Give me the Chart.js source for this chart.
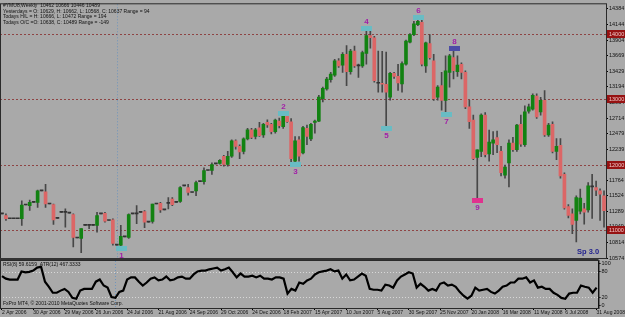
<!DOCTYPE html>
<html>
<head>
<meta charset="utf-8">
<script src="https://cdn.jsdelivr.net/npm/chart.js@4.4.1/dist/chart.umd.min.js"></script>
<style>
  html, body { margin: 0; padding: 0; background: #a9a9a9; }
  #wrap { position: relative; width: 625px; height: 317px; overflow: hidden; }
  #wrap canvas { position: absolute; left: 0; top: 0; }
</style>
</head>
<body>
<div id="wrap">
  <canvas id="priceChart" width="625" height="317"></canvas>
  <canvas id="rsiChart" width="625" height="317"></canvas>
</div>
<script>
// weekly bars, oldest first
const opens = [11249,11224,11174,11174,11174,11174,11385,11375,11425,11425,11601,11586,11400,11390,11180,11273,11273,11260,11239,10880,
  10872,11072,11072,11072,11072,11249,11259,11148,11158,10770,10770,10896,10887,11249,11249,11273,11284,11123,11133,11400,
  11410,11309,11410,11475,11425,11440,11677,11651,11576,11601,11742,11742,11913,11913,12013,12020,12130,12004,12130,12367,
  12281,12205,12397,12533,12432,12567,12457,12648,12618,12507,12668,12583,12784,12658,12054,12382,12180,12557,12397,12648,
  12669,13010,13161,13302,13372,13590,13523,13689,13423,13741,13514,13514,13704,13976,13941,13247,13247,13232,13036,13398,
  13353,13237,13538,13876,13991,14142,14178,13514,13855,13590,13036,13212,12986,13413,13640,13423,13538,13413,12885,12684,
  12114,12205,12759,12165,12331,12417,12205,11843,12029,12331,12230,12618,12306,12819,12850,13051,12809,12986,12457,12618,
  12205,12296,11853,11360,11249,11148,11289,11325,11309,11661,11651,11601,11526];
const highs = [11249,11249,11174,11174,11174,11450,11385,11460,11425,11612,11601,11702,11400,11400,11180,11273,11325,11260,11249,10880,
  11023,11072,11088,11072,11273,11249,11273,11148,11174,10770,11072,10896,11249,11249,11375,11273,11299,11123,11400,11400,
  11425,11309,11500,11500,11425,11666,11677,11702,11576,11752,11742,11953,11913,12028,12013,12080,12145,12205,12382,12382,
  12306,12412,12557,12557,12557,12648,12633,12688,12633,12699,12714,12799,12809,12708,12432,12432,12588,12608,12633,12684,
  13061,13187,13337,13413,13614,13624,13715,13825,13765,13816,13539,13740,14092,14092,13966,13741,13735,13725,13413,13413,
  13538,13574,13906,14006,14193,14223,14269,13876,13991,13690,13212,13413,13665,13690,13790,13665,13560,13439,12986,12759,
  12230,12779,12799,12532,12507,12517,12281,11994,12382,12420,12618,12759,12900,12930,13086,13086,13030,13137,12633,12658,
  12400,12400,11878,11390,11325,11526,11627,11410,11727,11853,11752,11631,11601];
const lows = [11249,11148,11174,11174,11174,11073,11385,11300,11425,11349,11601,11349,11400,11088,11180,11273,11047,11260,10745,10880,
  10654,11072,11023,11072,10971,11249,11123,11148,10770,10770,10721,10896,10872,11249,11098,11273,11038,11123,11108,11400,
  11273,11309,11325,11375,11425,11425,11677,11536,11576,11526,11742,11702,11913,11853,12013,12010,11979,11979,12114,12240,
  12095,12165,12382,12401,12397,12432,12417,12573,12472,12482,12563,12557,12648,12028,12013,12054,12165,12306,12367,12482,
  12658,12960,13141,13262,13353,13488,13413,13212,13388,13488,13337,13488,13538,13782,13262,13111,13111,12560,12990,13322,
  13137,13111,13523,13866,13976,14127,13514,13413,13614,12986,12990,12835,12780,13187,13312,13353,13312,12860,12557,12080,
  11465,12124,12120,12054,12155,12185,11828,11797,11662,12205,12205,12280,12280,12790,12835,12709,12760,12432,12432,12180,
  12080,11797,11320,11189,10947,10820,11249,11093,11274,11178,11526,11148,11047];
const closes = [11249,11174,11174,11174,11174,11385,11385,11425,11425,11601,11601,11400,11400,11158,11180,11273,11273,11260,10887,10880,
  11023,11072,11072,11072,11224,11249,11138,11148,10796,10770,10906,10896,11239,11249,11249,11273,11123,11123,11400,11400,
  11309,11309,11410,11390,11425,11651,11677,11576,11576,11727,11742,11913,11913,12004,12013,12069,12004,12130,12367,12281,
  12195,12397,12533,12417,12533,12447,12618,12608,12507,12684,12598,12784,12658,12095,12367,12130,12568,12432,12618,12669,
  13036,13171,13312,13387,13590,13514,13689,13423,13741,13514,13514,13715,13976,13946,13288,13247,13232,13111,13398,13353,
  13252,13549,13891,13991,14157,14193,13538,13866,13640,13010,13187,12986,13439,13665,13439,13524,13413,12885,12658,12095,
  12230,12759,12155,12346,12382,12306,11878,11964,12331,12230,12608,12316,12809,12885,13061,12734,12986,12457,12608,12205,
  12281,11828,11340,11224,11088,11500,11491,11274,11677,11661,11611,11551,11299];

const rsiValues = [70,64,62,62,62,81,79,80,83,90,92,57,45,31,31,36,40,33,19,17,
  36,40,40,40,57,62,48,43,21,19,33,36,62,67,67,57,48,55,64,67,
  60,62,69,60,62,67,69,64,64,74,81,83,83,86,88,90,83,86,90,79,
  67,76,69,69,71,67,71,64,64,62,67,67,64,29,40,36,55,52,60,64,
  74,79,81,83,86,81,83,64,74,60,62,69,76,71,40,38,38,36,50,48,
  43,60,69,74,79,76,43,52,45,36,40,36,52,55,48,50,45,33,24,17,
  24,43,36,38,40,33,29,36,45,48,55,55,64,64,67,55,60,43,45,40,
  40,31,26,19,17,29,31,31,48,45,43,31,43];

// one date label every 8 bars
const dateTicks = ['2 Apr 2006','30 Apr 2006','29 May 2006','26 Jun 2006','24 Jul 2006','21 Aug 2006','24 Sep 2006',
  '29 Oct 2006','24 Dec 2006','18 Feb 2007','15 Apr 2007','10 Jun 2007','5 Aug 2007','30 Sep 2007','25 Nov 2007',
  '20 Jan 2008','16 Mar 2008','11 May 2008','6 Jul 2008','31 Aug 2008'];
const labelEvery = 8;

const priceTicks = [14384,14144,13904,13669,13429,13194,12954,12714,12479,12239,12004,11764,11524,11289,11049,10814,10574];
const levelLines = [14000,13000,12000,11000];
const rsiTicks = [0,20,80,100];
const rsiLevels = [20,80];

// wave count marks
const waveLabels = ['1','2','3','4','5','6','7','8','9'];
const waveBars = [30,71,74,92,97,105,112,114,120];
const wavePrices = [10721,12799,12013,14092,12560,14260,12780,13790,11465];
const waveKinds = ['low','high','low','high','low','high','low','high','low'];

const separatorBar = 29;

const infoLines = [
  '#YMU8,Weekly  10462 10666 10446 10489',
  'Yesterdays = O: 10629, H: 10662, L: 10568, C: 10637 Range = 94',
  'Todays H/L = H: 10666, L: 10472 Range = 194',
  'Todays O/C =O: 10638, C: 10489 Range = -149'
];
const rsiCaption = 'RSI(8) 59.6159  ATR(12) 467.3333';
const copyright = 'FxPro MT4, \u00a9 2001-2010 MetaQuotes Software Corp.';
const spText = 'Sp 3.0';

const barIdx = opens.map((_, i) => i);
const FONT = '"Liberation Sans", Arial, sans-serif';
const boxColor = { '8': '#4c4ca6', '9': '#e0328e' };

function vline(ctx, chart, x) {
  ctx.save();
  ctx.strokeStyle = '#6f95bd';
  ctx.lineWidth = 1;
  ctx.setLineDash([1, 2]);
  ctx.beginPath();
  ctx.moveTo(Math.round(x) + 0.5, chart.chartArea.top);
  ctx.lineTo(Math.round(x) + 0.5, chart.chartArea.bottom);
  ctx.stroke();
  ctx.restore();
}

const priceDecor = {
  id: 'priceDecor',
  beforeDatasetsDraw(chart) {
    const { ctx, chartArea: a, scales: { x, y } } = chart;
    ctx.save();
    ctx.strokeStyle = '#8e4444';
    ctx.lineWidth = 1;
    ctx.setLineDash([2, 2]);
    levelLines.forEach(v => {
      const py = Math.round(y.getPixelForValue(v)) + 0.5;
      ctx.beginPath();
      ctx.moveTo(a.left, py);
      ctx.lineTo(a.right, py);
      ctx.stroke();
    });
    ctx.restore();
    vline(ctx, chart, x.getPixelForValue(separatorBar));
  },
  afterDraw(chart) {
    const { ctx, chartArea: a, scales: { x, y } } = chart;
    ctx.save();
    // frame
    ctx.strokeStyle = '#2a2a2a';
    ctx.lineWidth = 1;
    ctx.strokeRect(a.left + 0.5, a.top - 0.5, a.right - a.left, a.bottom - a.top + 1);

    // level price boxes on the axis
    ctx.font = '5.5px ' + FONT;
    ctx.textBaseline = 'middle';
    ctx.textAlign = 'left';
    levelLines.forEach(v => {
      const py = Math.round(y.getPixelForValue(v));
      ctx.fillStyle = '#961212';
      ctx.fillRect(a.right + 1, py - 4, 19, 8);
      ctx.fillStyle = '#f0c8c8';
      ctx.fillText(String(v), a.right + 3, py);
    });

    // wave marks
    waveLabels.forEach((lab, k) => {
      const px = Math.round(x.getPixelForValue(waveBars[k]));
      const py = Math.round(y.getPixelForValue(wavePrices[k]));
      const high = waveKinds[k] === 'high';
      ctx.fillStyle = boxColor[lab] || '#69bcc4';
      ctx.fillRect(px - 5, py - 2, 11, 5);
      ctx.fillStyle = '#a21ea8';
      ctx.font = 'bold 8px ' + FONT;
      ctx.textAlign = 'center';
      ctx.textBaseline = high ? 'bottom' : 'top';
      ctx.fillText(lab, px + 0.5, high ? py - 2 : py + 4);
    });

    // info text
    ctx.fillStyle = '#111';
    ctx.font = '5px ' + FONT;
    ctx.textAlign = 'left';
    ctx.textBaseline = 'middle';
    infoLines.forEach((t, i) => ctx.fillText(t, 3, 6 + i * 5.4));

    ctx.fillStyle = '#23238f';
    ctx.font = 'bold 7.5px ' + FONT;
    ctx.fillText(spText, 577, 252);
    ctx.restore();
  }
};

const rsiDecor = {
  id: 'rsiDecor',
  beforeDatasetsDraw(chart) {
    const { ctx, chartArea: a, scales: { x, y } } = chart;
    ctx.save();
    ctx.strokeStyle = '#d8d8d8';
    ctx.lineWidth = 1;
    ctx.setLineDash([1, 2]);
    rsiLevels.forEach(v => {
      const py = Math.round(y.getPixelForValue(v)) + 0.5;
      ctx.beginPath();
      ctx.moveTo(a.left, py);
      ctx.lineTo(a.right, py);
      ctx.stroke();
    });
    ctx.restore();
    vline(ctx, chart, x.getPixelForValue(separatorBar));
  },
  afterDraw(chart) {
    const { ctx, chartArea: a } = chart;
    ctx.save();
    ctx.strokeStyle = '#2a2a2a';
    ctx.lineWidth = 1;
    ctx.strokeRect(a.left + 0.5, a.top - 0.5, a.right - a.left, a.bottom - a.top + 1);
    ctx.fillStyle = '#333';
    ctx.fillRect(a.left, a.top - 3, a.right - a.left, 2);
    ctx.fillStyle = '#111';
    ctx.font = '5px ' + FONT;
    ctx.textAlign = 'left';
    ctx.textBaseline = 'middle';
    ctx.fillText(rsiCaption, 3, a.top + 4);
    ctx.fillText(copyright, 3, a.bottom - 4);
    ctx.restore();
  }
};

const rightAxis = (min, max, tickList) => ({
  position: 'right',
  min: min,
  max: max,
  afterBuildTicks: s => { s.ticks = tickList.map(v => ({ value: v })); },
  afterFit: s => { s.width = 19; },
  grid: { drawOnChartArea: false, tickLength: 2, color: '#000' },
  border: { color: '#000' },
  ticks: { color: '#111', padding: 1, font: { size: 5.5, family: FONT }, callback: v => String(v) }
});

new Chart(document.getElementById('priceChart'), {
  type: 'bar',
  data: {
    labels: barIdx,
    datasets: [
      {
        label: 'body',
        data: opens.map((o, i) => [o, closes[i]]),
        backgroundColor: c => {
          const i = c.dataIndex;
          if (closes[i] > opens[i]) return '#128212';
          if (closes[i] < opens[i]) return '#dc6666';
          return '#333';
        },
        borderWidth: 0,
        barThickness: 3,
        minBarLength: 1,
        grouped: false,
        order: 1
      },
      {
        label: 'wick',
        data: lows.map((l, i) => [l, highs[i]]),
        backgroundColor: '#474747',
        barThickness: 1,
        grouped: false,
        order: 2
      }
    ]
  },
  options: {
    responsive: false,
    animation: false,
    layout: { padding: { top: 1, bottom: 317 - 258, left: 0, right: 0 } },
    plugins: { legend: { display: false }, tooltip: { enabled: false } },
    scales: {
      x: { display: false, offset: true },
      y: rightAxis(10574, 14455, priceTicks)
    }
  },
  plugins: [priceDecor]
});

new Chart(document.getElementById('rsiChart'), {
  type: 'line',
  data: {
    labels: barIdx,
    datasets: [{
      label: 'RSI',
      data: rsiValues,
      borderColor: '#000',
      borderWidth: 2.2,
      pointRadius: 0,
      tension: 0
    }]
  },
  options: {
    responsive: false,
    animation: false,
    layout: { padding: { top: 261, bottom: 0, left: 0, right: 0 } },
    plugins: { legend: { display: false }, tooltip: { enabled: false } },
    scales: {
      x: {
        offset: true,
        afterFit: s => { s.height = 9; },
        grid: {
          offset: false,
          drawOnChartArea: false,
          tickLength: 2,
          color: c => (c.index % labelEvery === 0 ? '#000' : 'rgba(0,0,0,0)')
        },
        border: { color: '#000' },
        ticks: {
          autoSkip: false,
          maxRotation: 0,
          align: 'start',
          padding: 0,
          color: '#111',
          font: { size: 5, family: FONT },
          callback: (v, i) => (i % labelEvery === 0 ? dateTicks[i / labelEvery] : '')
        }
      },
      y: rightAxis(-4.8, 105.5, rsiTicks)
    }
  },
  plugins: [rsiDecor]
});
</script>
</body>
</html>
